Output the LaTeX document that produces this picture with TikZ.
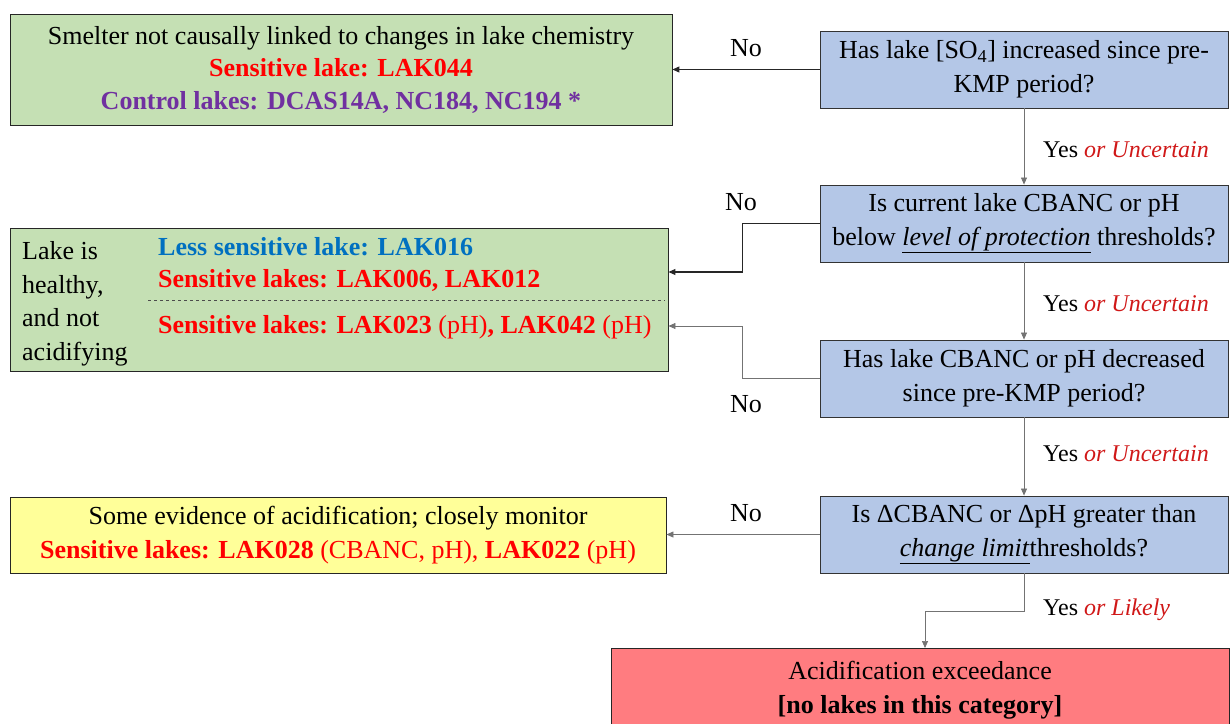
\documentclass[tikz,border=0pt]{standalone}
\usepackage{fontspec}
\setmainfont{Liberation Serif}
\usetikzlibrary{arrows.meta}

\definecolor{boxgreen}{HTML}{C5E0B4}
\definecolor{boxblue}{HTML}{B4C7E7}
\definecolor{boxyellow}{HTML}{FFFF99}
\definecolor{boxred}{HTML}{FF7C80}
\definecolor{lakered}{HTML}{FF0000}
\definecolor{lakepurple}{HTML}{7030A0}
\definecolor{lakeblue}{HTML}{0070C0}
\definecolor{ansred}{HTML}{D01818}

\newcommand{\orwhat}[1]{\textcolor{ansred}{\textit{or #1}}}

\begin{document}
\begin{tikzpicture}[x=1pt, y=-1pt,
    every node/.style={font=\fontsize{26}{34}\selectfont, inner sep=0pt},
    question/.style={rectangle, draw=black!80, line width=0.9pt, fill=boxblue, minimum width=408pt, minimum height=77pt, align=center},
    outcome/.style={rectangle, draw=black!85, line width=0.9pt, align=center},
    arr/.style={-{Triangle[length=7pt,width=6pt]}, draw=black!55, line width=0.7pt},
    arrdark/.style={-{Triangle[length=7pt,width=6pt]}, draw=black!85, line width=1.1pt},
    lbl/.style={anchor=center},
    yes/.style={anchor=west, font=\fontsize{24}{30}\selectfont}]
    \useasboundingbox (0,0) rectangle (1230,723);

    % decision boxes down the right side
    \node[question] (q1) at (1024, 69.5)  {Has lake [SO\textsubscript{4}] increased since pre-\\KMP period?};
    \node[question] (q2) at (1024, 223.5) {Is current lake CBANC or pH\\below \underline{\textit{level of  protection}} thresholds?};
    \node[question] (q3) at (1024, 378.5) {Has lake CBANC or pH decreased\\since pre-KMP period?};
    \node[question] (q4) at (1024, 534.5) {Is ΔCBANC or ΔpH greater than\\\underline{\textit{change limit}}thresholds?};

    % outcome boxes
    \node[outcome, fill=boxgreen, minimum width=662pt, minimum height=111pt, font=\fontsize{26}{32.5}\selectfont] (smelter) at (341, 69.5)
        {Smelter not causally linked to changes in lake chemistry\\
         \textcolor{lakered}{\textbf{Sensitive lake: LAK044}}\\
         \textcolor{lakepurple}{\textbf{Control lakes: DCAS14A, NC184, NC194 *}}};
    \node[outcome, fill=boxgreen, minimum width=658pt, minimum height=143pt] (healthy) at (339, 299.5) {};
    \node[outcome, fill=boxyellow, minimum width=656pt, minimum height=76pt] (monitor) at (338, 535)
        {Some evidence of  acidification; closely monitor\\
         \textcolor{lakered}{\textbf{Sensitive lakes: LAK028} (CBANC, pH), \textbf{LAK022} (pH)}};
    \node[outcome, fill=boxred, minimum width=618pt, minimum height=84pt, anchor=north] (exceed) at (920, 648) {};
    \node[align=center] (exceedtxt) at (920, 690) {Acidification exceedance\\\textbf{[no lakes in this category]}};

    % contents of the healthy box
    \node[anchor=west, align=left, font=\fontsize{26}{33.5}\selectfont] (healthyL) at (22, 304) {Lake is\\healthy,\\and not\\acidifying};
    \node[anchor=west] (less) at (158, 247) {\textcolor{lakeblue}{\textbf{Less sensitive lake: LAK016}}};
    \node[anchor=west] (sensA) at (158, 280) {\textcolor{lakered}{\textbf{Sensitive lakes: LAK006, LAK012}}};
    \node[anchor=west] (sensB) at (158, 327) {\textcolor{lakered}{\textbf{Sensitive lakes: LAK023} (pH)\textbf{, LAK042} (pH)}};
    \draw[dashed, black!70, line width=0.6pt] (148, 300) -- (665, 300);

    % entry points on the boxes
    \coordinate (inA) at (healthy.east |- 0,272);
    \coordinate (inB) at (healthy.east |- 0,326);
    \coordinate (inR) at (925, 648);

    % No branches
    \draw[arrdark] (q1.west) -- (smelter.east |- q1.west);
    \draw[arrdark] (q2.west) -- ++(-77,0) |- (inA);
    \draw[arr] (q3.west) -- ++(-77,0) |- (inB);
    \draw[arr] (q4.west) -- (monitor.east |- q4.west);
    \node[lbl] at (746, 48)  {No};
    \node[lbl] at (741, 202) {No};
    \node[lbl] at (746, 404) {No};
    \node[lbl] at (746, 513) {No};

    % Yes branches
    \draw[arr] (q1.south) -- (q2.north);
    \draw[arr] (q2.south) -- (q3.north);
    \draw[arr] (q3.south) -- (q4.north);
    \draw[arr] (q4.south) -- ++(0,38) -| (inR);
    \node[yes] at (1043, 150) {Yes \orwhat{Uncertain}};
    \node[yes] at (1043, 304) {Yes \orwhat{Uncertain}};
    \node[yes] at (1043, 454) {Yes \orwhat{Uncertain}};
    \node[yes] at (1043, 610) {Yes \orwhat{Likely}};
\end{tikzpicture}
\end{document}
